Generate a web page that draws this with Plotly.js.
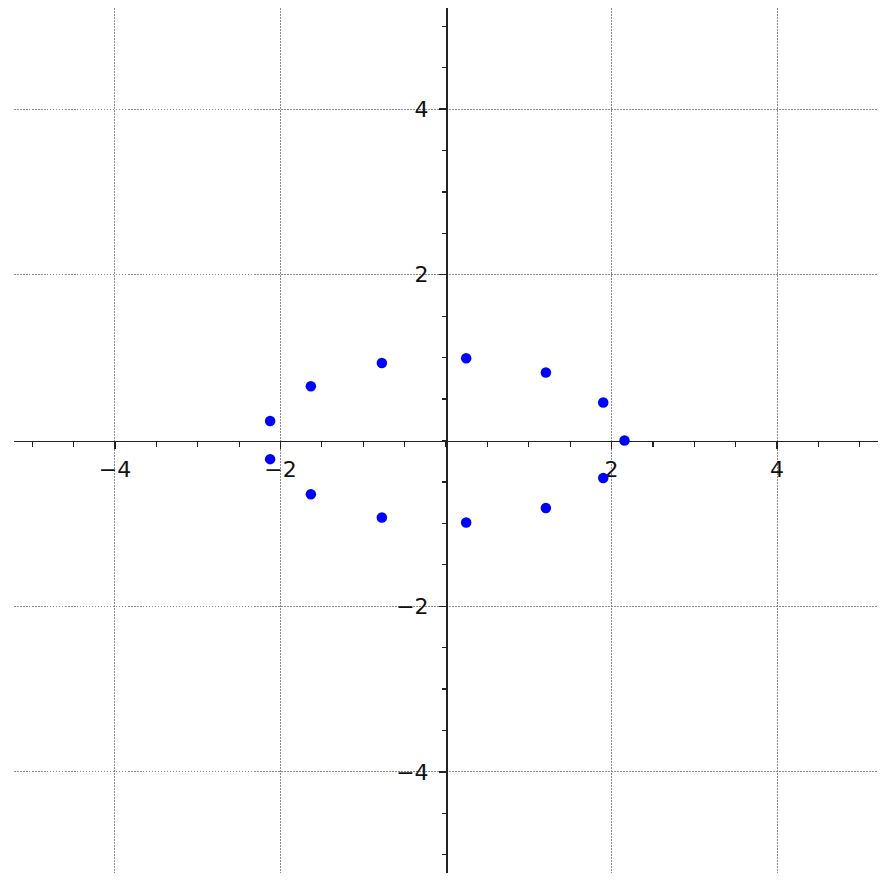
<!DOCTYPE html>
<html>
<head>
<meta charset="utf-8">
<script src="https://cdn.plot.ly/plotly-3.0.1.min.js"></script>
<style>html,body{margin:0;padding:0;background:#fff;}#plot{width:890px;height:882px;}</style>
</head>
<body>
<div id="plot"></div>
<script>
// Data
const xs = [-2.125, -2.125, -1.633, -1.633, -0.775, -0.775, 0.244, 0.244, 1.207, 1.207, 1.90, 1.90, 2.157];
const ys = [0.235, -0.225, 0.655, -0.648, 0.935, -0.930, 0.993, -0.990, 0.820, -0.815, 0.458, -0.452, 0.0];

const xTickVals = [-4, -2, 2, 4];
const xTickText = ['\u22124', '\u22122', '2', '4'];
const yTickVals = [-4, -2, 2, 4];
const yTickText = ['\u22124', '\u22122', '2', '4'];

const R = 5.22;
const axisCommon = {
  range: [-R, R],
  tickmode: 'array',
  showgrid: true,
  gridcolor: '#8a8a8a',
  gridwidth: 1,
  griddash: '1.5px,1.5px',
  zeroline: false,
  showline: true,
  linecolor: '#222',
  linewidth: 1.6,
  ticks: 'outside',
  ticklen: 7,
  tickwidth: 1.4,
  tickcolor: '#222',
  tickfont: {family: 'DejaVu Sans', size: 22, color: '#111'},
  anchor: 'free',
  position: 0.5,
  layer: 'below traces',
  fixedrange: true,
  minor: {tickmode: 'linear', tick0: 0, dtick: 0.5, ticks: 'outside', ticklen: 4.5, tickwidth: 1.2, tickcolor: '#222', showgrid: false}
};

const layout = {
  width: 890, height: 882,
  margin: {l: 14, r: 12, t: 8, b: 9, pad: 0},
  paper_bgcolor: '#fff', plot_bgcolor: '#fff',
  showlegend: false,
  xaxis: Object.assign({}, axisCommon, {tickvals: xTickVals, ticktext: xTickText, side: 'bottom', ticklabelstandoff: 1}),
  yaxis: Object.assign({}, axisCommon, {tickvals: yTickVals, ticktext: yTickText, side: 'left', ticklabelstandoff: 6})
};

const trace = {
  type: 'scatter', mode: 'markers',
  x: xs, y: ys,
  marker: {color: '#0000ff', size: 10.5, line: {width: 0}},
  cliponaxis: false,
  hoverinfo: 'none'
};

Plotly.newPlot('plot', [trace], layout, {displayModeBar: false, staticPlot: true});
</script>
</body>
</html>
